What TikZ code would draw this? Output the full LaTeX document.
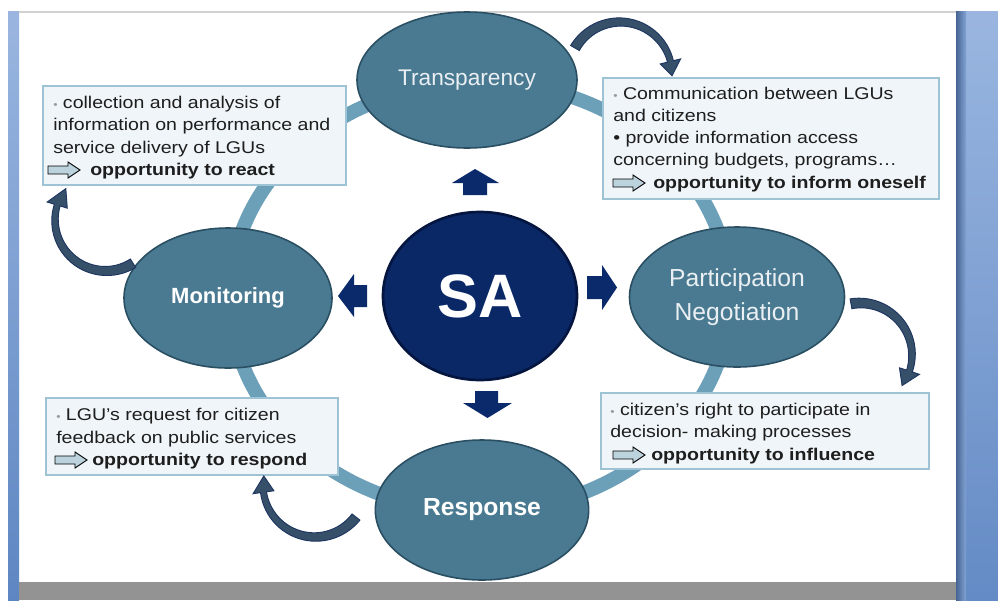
\documentclass[tikz,border=0pt]{standalone}
\usepackage{fontspec}
\setmainfont{Liberation Sans}
\newfontfamily\boxfont[FakeStretch=1.15]{Liberation Sans}
\usetikzlibrary{shapes.geometric}
\definecolor{ringc}{HTML}{6C9FB8}
\definecolor{ellc}{HTML}{4A7A91}
\definecolor{elld}{HTML}{2A4F62}
\definecolor{sac}{HTML}{0A2766}
\definecolor{sad}{HTML}{041640}
\definecolor{boxf}{HTML}{EFF5F8}
\definecolor{boxd}{HTML}{9DC3D4}
\definecolor{txtc}{HTML}{1E1E1E}
\definecolor{navyc}{HTML}{0B2A6B}
\definecolor{carf}{HTML}{36506A}
\definecolor{card}{HTML}{1E3560}
\definecolor{iconf}{HTML}{BCD3DE}
\definecolor{bulg}{HTML}{9A9A9A}
\definecolor{stripa}{HTML}{9AB6E0}
\definecolor{stripb}{HTML}{5E86C2}
\definecolor{graybar}{HTML}{939393}
\newcommand\gbul{{\color{bulg}\fontsize{8}{8}\selectfont\textbullet}}
\newcommand\curvarrow[9]{% cx cy r a1 a2 atip w1 w2 hw
  \filldraw[carrowstyle]
    plot[domain=#4:#5,samples=30,variable=\q]
      ({#1+(#3+0.5*(#7+(#8-(#7))*(\q-(#4))/((#5)-(#4))))*cos(\q)},
       {#2+(#3+0.5*(#7+(#8-(#7))*(\q-(#4))/((#5)-(#4))))*sin(\q)})
    -- ({#1+(#3+0.5*#9)*cos(#5)},{#2+(#3+0.5*#9)*sin(#5)})
    -- ({#1+#3*cos(#6)},{#2+#3*sin(#6)})
    -- ({#1+(#3-0.5*#9)*cos(#5)},{#2+(#3-0.5*#9)*sin(#5)})
    -- plot[domain=#5:#4,samples=30,variable=\q]
      ({#1+(#3-0.5*(#7+(#8-(#7))*(\q-(#4))/((#5)-(#4))))*cos(\q)},
       {#2+(#3-0.5*(#7+(#8-(#7))*(\q-(#4))/((#5)-(#4))))*sin(\q)})
    -- cycle;}
\newcommand\oppicon[2]{%
  \filldraw[iconstyle] ({#1},{#2-4}) -- ++(20,0) -- ++(0,-4) -- ++(12,8)
    -- ++(-12,8) -- ++(0,-4) -- ++(-20,0) -- cycle;}
\begin{document}
\begin{tikzpicture}[x=0.75pt,y=-0.75pt,
  ringstyle/.style={draw=ringc,line width=10.5pt},
  ell/.style={ellipse,fill=ellc,draw=elld,line width=1.2pt,inner sep=0pt,
    text=white},
  boxstyle/.style={fill=boxf,draw=boxd,line width=1pt},
  ln/.style={anchor=base west,inner sep=0pt,text=txtc,
    font=\boxfont\fontsize{12.75pt}{15pt}\selectfont},
  bln/.style={ln,font=\boxfont\bfseries\fontsize{12.75pt}{15pt}\selectfont},
  iconstyle/.style={fill=iconf,draw=black,line width=0.7pt},
  carrowstyle/.style={fill=carf,draw=card,line width=0.7pt},
  navyarrow/.style={fill=navyc}]
\useasboundingbox (0,0) rectangle (998,600);
\fill[white] (0,0) rectangle (998,600);
% frame
\shade[top color=stripa,bottom color=stripb] (8,11) rectangle (19,600);
\shade[top color=stripa,bottom color=stripb!90!stripa] (956,11) rectangle (998,600);
\shade[left color=stripb!75!black,right color=stripa!60!stripb] (956,11) rectangle (966,600);
\fill[graybar] (19,582) rectangle (956,600);
\draw[black!18,line width=1.5pt] (19,12) -- (956,12);
% ring
\draw[ringstyle] (480,297) ellipse [x radius=187.5pt, y radius=161.25pt];
% ellipses
\node[ell,minimum width=165pt,minimum height=102pt,text=white!88!ellc,
  font=\fontsize{17pt}{20pt}\selectfont] (transp) at (467,80) {Transparency};
\node[ell,minimum width=161.25pt,minimum height=105pt,text=white!88!ellc,
  align=center,font=\fontsize{18.5pt}{25.5pt}\selectfont] (partic) at (737,297)
  {Participation\\Negotiation};
\node[ell,minimum width=160pt,minimum height=105pt,
  font=\bfseries\fontsize{18.5pt}{22pt}\selectfont] (resp) at (482,510) {Response};
\node[ell,minimum width=156pt,minimum height=105pt,
  font=\bfseries\fontsize{16.5pt}{20pt}\selectfont] (monit) at (228,298) {Monitoring};
\node[ellipse,fill=sac,draw=sad,line width=2pt,inner sep=0pt,
  minimum width=145.5pt,minimum height=126pt,text=white,
  font=\bfseries\fontsize{46pt}{52pt}\selectfont] (sa) at (480,296) {SA};
% navy block arrows
\fill[navyarrow] (463,195) -- (463,183) -- (452,183) -- (475,169) -- (499,183)
  -- (487,183) -- (487,195) -- cycle;
\fill[navyarrow] (367,285) -- (354,285) -- (354,274) -- (338,296) -- (354,317)
  -- (354,307) -- (367,307) -- cycle;
\fill[navyarrow] (587,276) -- (602,276) -- (602,265) -- (617,287.5) -- (602,310)
  -- (602,299) -- (587,299) -- cycle;
\fill[navyarrow] (475,391) -- (498,391) -- (498,403) -- (512,403) -- (487.5,418)
  -- (463,403) -- (475,403) -- cycle;
% text boxes
\filldraw[boxstyle] (43,86) rectangle (346,185);
\node[ln] (tl1) at (53,108) {\gbul\ collection and analysis of};
\node[ln] (tl2) at (53,130) {information on performance and};
\node[ln] (tl3) at (53,153) {service delivery of LGUs};
\oppicon{48}{170}
\node[bln] (tl4) at (90,175) {opportunity to react};

\filldraw[boxstyle] (603,78) rectangle (939,199);
\node[ln] (tr1) at (613,99) {\gbul\ Communication between LGUs};
\node[ln] (tr2) at (613,121) {and citizens};
\node[ln] (tr3) at (613,143) {\textbullet\ provide information access};
\node[ln] (tr4) at (613,165) {concerning budgets, programs…};
\oppicon{613}{183}
\node[bln] (tr5) at (653,188) {opportunity to inform oneself};

\filldraw[boxstyle] (46,398) rectangle (338,475);
\node[ln] (bl1) at (56,420) {\gbul\ LGU’s request for citizen};
\node[ln] (bl2) at (56,443) {feedback on public services};
\oppicon{55}{460}
\node[bln] (bl3) at (92,465) {opportunity to respond};

\filldraw[boxstyle] (601,393) rectangle (929,469);
\node[ln] (br1) at (610,415) {\gbul\ citizen’s right to participate in};
\node[ln] (br2) at (610,437) {decision- making processes};
\oppicon{613}{455}
\node[bln] (br3) at (651,460) {opportunity to influence};
% curved arrows
\curvarrow{620}{74}{52}{-150}{-14}{2}{10}{6}{21}
\curvarrow{860}{355}{52}{-100}{18}{36}{10}{6}{21}
\curvarrow{315}{485}{52}{38}{172}{190}{10}{6}{21}
\curvarrow{106}{220}{51}{58}{197}{218}{10}{6}{21}
\end{tikzpicture}
\end{document}
